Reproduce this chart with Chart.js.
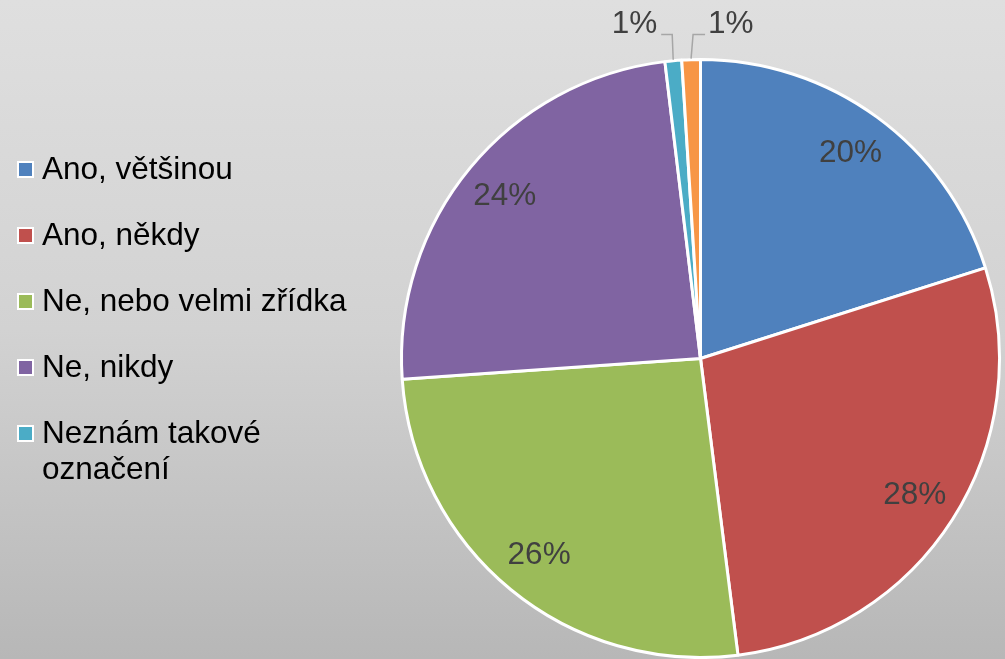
<!DOCTYPE html>
<html>
<head>
<meta charset="utf-8">
<script src="https://cdn.jsdelivr.net/npm/chart.js@4.4.1/dist/chart.umd.min.js"></script>
<style>
  html, body { margin: 0; padding: 0; }
  body {
    width: 1005px; height: 659px; overflow: hidden; position: relative;
    background: linear-gradient(to bottom, #dfdfdf 0%, #d2d2d2 50%, #b7b7b7 100%);
    font-family: "Liberation Sans", Arial, sans-serif;
  }
  #wrap { position: absolute; left: 0; top: 0; width: 1005px; height: 659px; }
  #legend { position: absolute; left: 17px; top: 150px; margin: 0; padding: 0; list-style: none; }
  #legend li { position: relative; padding-left: 25px; font-size: 31.5px; line-height: 36px; color: #000; margin-bottom: 30px; width: 330px; }
  #legend li span {
    position: absolute; left: 0; top: 11px; width: 13px; height: 13px;
    border: 2px solid #fff;
  }
</style>
</head>
<body>
<div id="wrap"><canvas id="myChart" width="1005" height="659"></canvas></div>
<ul id="legend"></ul>
<script>
const categories = ['Ano, většinou', 'Ano, někdy', 'Ne, nebo velmi zřídka', 'Ne, nikdy', 'Neznám takové označení', ''];
const shares = [20.1, 27.9, 25.9, 24.2, 0.9, 1.0];
const colors = ['#4f81bd', '#c0504d', '#9bbb59', '#8064a2', '#4bacc6', '#f79646'];

// legend (only the named categories)
const legendEl = document.getElementById('legend');
categories.forEach((name, i) => {
   if (!name) return;
   const li = document.createElement('li');
   li.innerHTML = `<span style="background:${colors[i]}"></span>${name.replace('takové ', 'takové<br>')}`;
   legendEl.appendChild(li);
});

const total = shares.reduce((a, b) => a + b, 0);

const pieLabels = {
   id: 'pieLabels',
   afterDatasetsDraw(chart) {
      const ctx = chart.ctx;
      const meta = chart.getDatasetMeta(0);
      ctx.save();
      ctx.font = '31.5px "Liberation Sans", Arial, sans-serif';
      ctx.fillStyle = '#404040';
      meta.data.forEach((arc, i) => {
         const p = arc.getProps(['x', 'y', 'startAngle', 'endAngle', 'outerRadius'], true);
         const mid = (p.startAngle + p.endAngle) / 2;
         const txt = Math.round(shares[i] / total * 100) + '%';
         if (shares[i] / total > 0.03) {
            const r = p.outerRadius * 0.85;
            ctx.textAlign = 'center';
            ctx.textBaseline = 'middle';
            ctx.fillText(txt, p.x + Math.cos(mid) * r, p.y + Math.sin(mid) * r);
         } else {
            // small slice: label above the pie with a leader line
            const ax = p.x + Math.cos(mid) * (p.outerRadius + 1);
            const ay = p.y + Math.sin(mid) * (p.outerRadius + 1);
            const ey = p.y - p.outerRadius - 25;
            const left = i < shares.length - 1;
            const hx = left ? ax - 12 : ax + 14;
            ctx.strokeStyle = '#a6a6a6';
            ctx.lineWidth = 1.5;
            ctx.beginPath();
            ctx.moveTo(ax, ay);
            ctx.lineTo(ax + (left ? -1 : 2), ey);
            ctx.lineTo(hx, ey);
            ctx.stroke();
            ctx.textBaseline = 'middle';
            ctx.textAlign = left ? 'right' : 'left';
            ctx.fillText(txt, left ? hx - 4 : hx + 3, ey - 10);
         }
      });
      ctx.restore();
   }
};

const chart = new Chart(document.getElementById('myChart').getContext('2d'), {
   type: 'pie',
   data: {
      labels: categories,
      datasets: [{
         data: shares,
         backgroundColor: colors,
         borderColor: '#ffffff',
         borderWidth: 3
      }]
   },
   options: {
      responsive: false,
      animation: false,
      layout: { padding: { left: 399, right: 3, top: 58, bottom: 0 } },
      plugins: {
         legend: { display: false },
         tooltip: { enabled: false }
      }
   },
   plugins: [pieLabels]
});
</script>
</body>
</html>
